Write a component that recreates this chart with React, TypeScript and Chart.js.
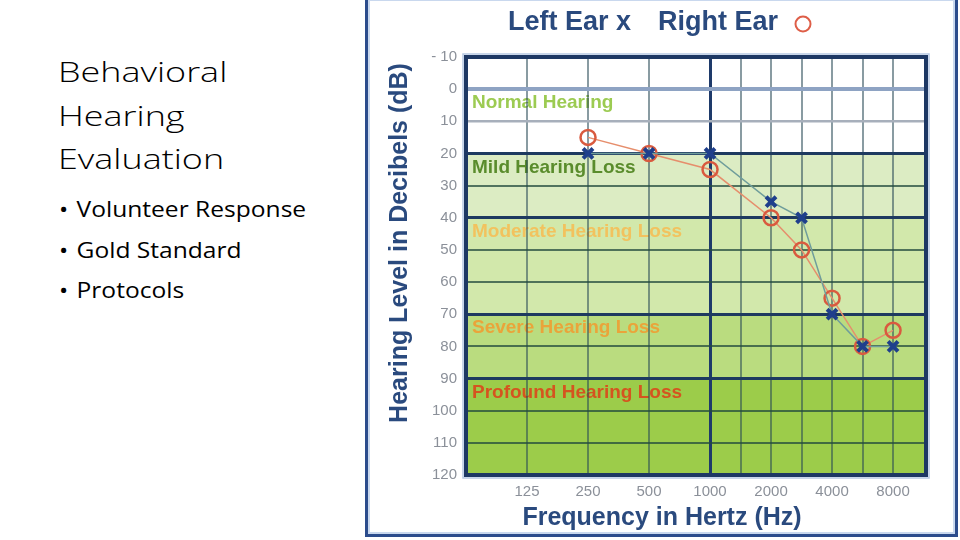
import React, { useEffect, useRef } from "react";
import { Chart, registerables } from "chart.js";

Chart.register(...registerables);

// ---------- data ----------
const frequencies = [250, 500, 1000, 2000, 3000, 4000, 6000, 8000];
const leftEar = [20, 20, 20, 35, 40, 70, 80, 80];
const rightEar = [15, 20, 25, 40, 50, 65, 80, 75];

const xTickFreqs = [125, 250, 500, 1000, 1500, 2000, 3000, 4000, 6000, 8000];
const xTickLabels = ["125", "250", "500", "1000", "", "2000", "", "4000", "", "8000"];

const yMin = -10;
const yMax = 120;
const yStep = 10;

const bandNames = [
  "Normal Hearing",
  "Mild Hearing Loss",
  "Moderate Hearing Loss",
  "Severe Hearing Loss",
  "Profound Hearing Loss",
];
const bandFrom = [-10, 20, 40, 70, 90];
const bandTo = [20, 40, 70, 90, 120];
const bandFill = ["#ffffff", "#dcecc3", "#d2e8ab", "#badc7f", "#9ccc4a"];
const bandText = ["#9ccb52", "#5a8c2c", "#f2c25e", "#eaa43a", "#d5541f"];

const slideTitle = ["Behavioral", "Hearing", "Evaluation"];
const bullets = ["Volunteer Response", "Gold Standard", "Protocols"];

// ---------- helpers ----------
function freqToPos(f: number): number {
  const b = Math.log2(f / 125);
  if (Math.abs(b - Math.round(b)) < 1e-9) return Math.round(b);
  return Math.floor(b) + 0.5;
}

const NAVY = "#2a4a7e";

function yGrid(v: number): [string, number] {
  if (v === yMin || v === yMax) return ["rgba(0,0,0,0)", 0];
  if (v === 0) return ["#8ea3c3", 4];
  if (v === 10) return ["#a7afbb", 2.5];
  if (v === 20 || v === 40 || v === 70 || v === 90) return ["#1e3a60", 3];
  return ["rgba(35,75,62,0.75)", 2];
}
function xGrid(v: number): [string, number] {
  if (v === freqToPos(1000)) return ["#1e3a6a", 3];
  return ["rgba(40,72,85,0.55)", 2];
}

const bgPlugin = {
  id: "bands",
  beforeDraw(chart: any) {
    const { ctx, chartArea } = chart;
    const ys = chart.scales.y;
    ctx.save();
    for (let i = 0; i < bandNames.length; i++) {
      const y1 = ys.getPixelForValue(bandFrom[i]);
      const y2 = ys.getPixelForValue(bandTo[i]);
      ctx.fillStyle = bandFill[i];
      ctx.fillRect(chartArea.left, y1, chartArea.right - chartArea.left, y2 - y1);
    }
    ctx.font = 'bold 19px "Liberation Sans", Arial, sans-serif';
    ctx.textBaseline = "middle";
    ctx.textAlign = "left";
    for (let i = 0; i < bandNames.length; i++) {
      const y = ys.getPixelForValue(Math.max(bandFrom[i], 0)) + 14;
      ctx.fillStyle = bandText[i];
      ctx.fillText(bandNames[i], chartArea.left + 6, y);
    }
    ctx.restore();
  },
};

const overlayPlugin = {
  id: "overlay",
  afterDraw(chart: any) {
    const { ctx, chartArea } = chart;
    const { left, top, right, bottom } = chartArea;
    ctx.save();
    ctx.strokeStyle = "#b7c9e4";
    ctx.lineWidth = 1.5;
    ctx.strokeRect(left - 3, top - 3, right - left + 6, bottom - top + 6);
    ctx.strokeStyle = "#1d3864";
    ctx.lineWidth = 4;
    ctx.strokeRect(left, top, right - left, bottom - top);

    ctx.fillStyle = NAVY;
    ctx.textBaseline = "middle";
    ctx.textAlign = "left";
    ctx.font = 'bold 27px "Liberation Sans", Arial, sans-serif';
    ctx.fillText("Left Ear x", left + 42, 23);
    ctx.fillText("Right Ear", left + 192, 23);
    ctx.beginPath();
    ctx.strokeStyle = "#de5e48";
    ctx.lineWidth = 2;
    ctx.arc(left + 337, 24, 7.5, 0, Math.PI * 2);
    ctx.stroke();

    ctx.font = 'bold 25px "Liberation Sans", Arial, sans-serif';
    ctx.textAlign = "center";
    ctx.fillText("Frequency in Hertz (Hz)", left + 196, 518);
    ctx.translate(31, 243);
    ctx.rotate(-Math.PI / 2);
    ctx.fillText("Hearing Level in Decibels (dB)", 0, 0);
    ctx.restore();
  },
};

function Audiogram() {
  const ref = useRef<HTMLCanvasElement>(null);
  useEffect(() => {
    if (!ref.current) return;
    const tickPos = xTickFreqs.map(freqToPos);
    const chart = new Chart(ref.current, {
      type: "line",
      data: {
        datasets: [
          {
            label: "Left Ear",
            data: frequencies.map((f, i) => ({ x: freqToPos(f), y: leftEar[i] })),
            borderColor: "#6f9d9b",
            borderWidth: 1.5,
            pointStyle: "crossRot",
            pointRadius: 7,
            pointBorderWidth: 4,
            pointBorderColor: "#1f3f8c",
            pointBackgroundColor: "#1f3f8c",
            clip: false,
          },
          {
            label: "Right Ear",
            data: frequencies.map((f, i) => ({ x: freqToPos(f), y: rightEar[i] })),
            borderColor: "#e68e6c",
            borderWidth: 1.5,
            pointStyle: "circle",
            pointRadius: 7.5,
            pointBorderWidth: 2.5,
            pointBorderColor: "#d95a3f",
            pointBackgroundColor: "rgba(0,0,0,0)",
            clip: false,
          },
        ],
      },
      options: {
        animation: false,
        responsive: false,
        devicePixelRatio: 1,
        layout: { padding: { left: 0, right: 27, top: 57, bottom: 0 } },
        plugins: { legend: { display: false }, tooltip: { enabled: false } },
        scales: {
          x: {
            type: "linear",
            min: freqToPos(125) - 1,
            max: freqToPos(8000) + 0.54,
            afterBuildTicks: (s: any) => {
              s.ticks = tickPos.map((v) => ({ value: v }));
            },
            afterFit: (s: any) => {
              s.height = 59;
            },
            border: { display: false },
            grid: {
              drawTicks: false,
              color: (c: any) => xGrid(c.tick.value)[0],
              lineWidth: (c: any) => xGrid(c.tick.value)[1],
            },
            ticks: {
              autoSkip: false,
              maxRotation: 0,
              padding: 8,
              color: "#8b9099",
              font: { family: '"Liberation Sans", Arial, sans-serif', size: 15 },
              callback: (v: any) => {
                const i = tickPos.indexOf(v);
                return i >= 0 ? xTickLabels[i] : "";
              },
            },
          },
          y: {
            type: "linear",
            reverse: true,
            min: yMin,
            max: yMax,
            afterFit: (s: any) => {
              s.width = 97;
            },
            border: { display: false },
            grid: {
              drawTicks: false,
              color: (c: any) => yGrid(c.tick.value)[0],
              lineWidth: (c: any) => yGrid(c.tick.value)[1],
            },
            ticks: {
              stepSize: yStep,
              autoSkip: false,
              padding: 9,
              color: "#8b9099",
              font: { family: '"Liberation Sans", Arial, sans-serif', size: 15 },
              callback: (v: any) => (v === -10 ? "- 10" : String(v)),
            },
          },
        },
      },
      plugins: [bgPlugin, overlayPlugin],
    });
    return () => chart.destroy();
  }, []);
  return (
    <canvas
      ref={ref}
      width={584}
      height={534}
      style={{ position: "absolute", left: 369, top: 0, width: 584, height: 534 }}
    />
  );
}

export default function App() {
  return (
    <div
      style={{
        position: "fixed",
        left: 0,
        top: 0,
        width: 960,
        height: 540,
        background: "#fff",
        overflow: "hidden",
      }}
    >
      <div
        style={{
          position: "absolute",
          left: 58,
          top: 50,
          fontFamily: '"Open Sans", sans-serif',
          fontWeight: 300,
          fontSize: 27,
          lineHeight: "43.5px",
          color: "#000",
          transform: "scaleX(1.33)",
          transformOrigin: "0 0",
          whiteSpace: "nowrap",
        }}
      >
        {slideTitle.map((t) => (
          <div key={t}>{t}</div>
        ))}
      </div>
      <div
        style={{
          position: "absolute",
          left: 59,
          top: 189,
          fontFamily: '"Open Sans", sans-serif',
          fontSize: 21,
          lineHeight: "40.5px",
          color: "#000",
          transform: "scaleX(1.17)",
          transformOrigin: "0 0",
          whiteSpace: "nowrap",
        }}
      >
        {bullets.map((t) => (
          <div key={t} style={{ display: "flex" }}>
            <span style={{ width: 15 }}>•</span>
            <span>{t}</span>
          </div>
        ))}
      </div>
      <div
        style={{
          position: "absolute",
          left: 365,
          top: -4,
          width: 587,
          height: 535,
          border: "3px solid #2c4c8c",
          boxShadow: "inset 0 0 0 2px #c9d8ee",
        }}
      />
      <Audiogram />
    </div>
  );
}
